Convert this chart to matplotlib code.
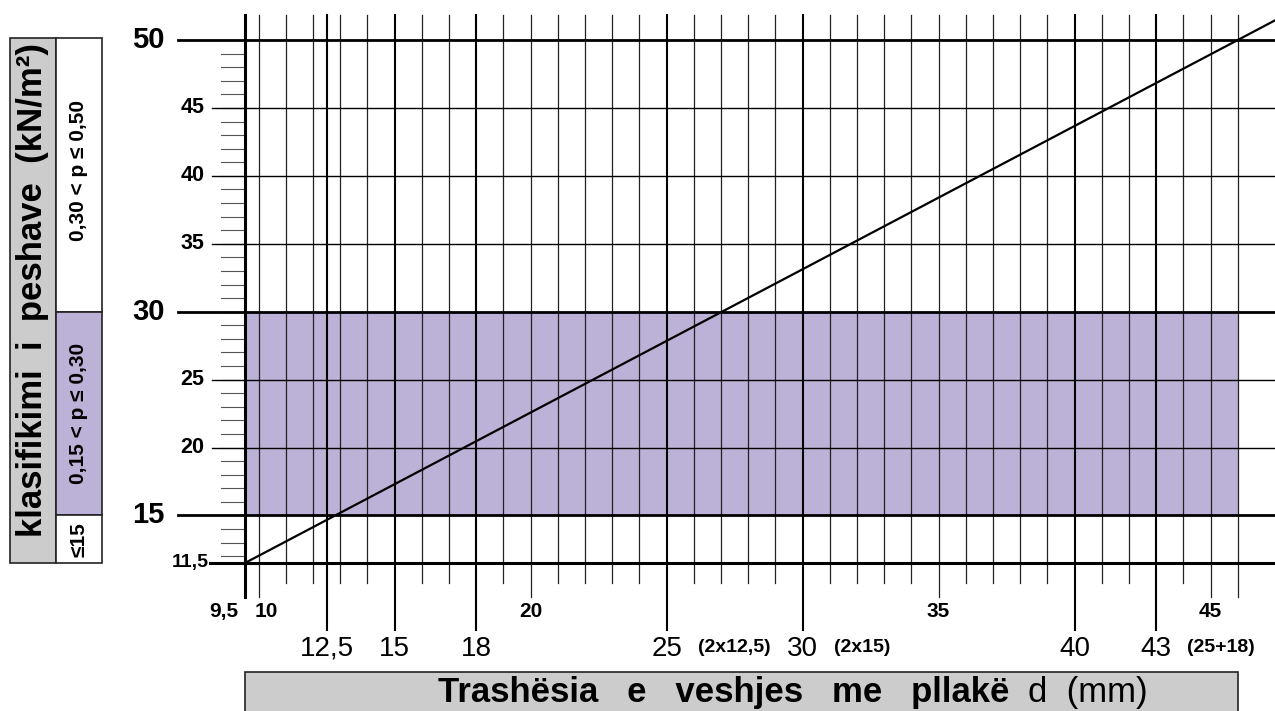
import numpy as np
import matplotlib.pyplot as plt
from matplotlib.patches import Rectangle

plt.rcParams['font.family'] = ['Liberation Sans', 'DejaVu Sans']

# load line: thickness d (mm) -> load p
line_d = [9.5, 46, 47.4]
line_p = [11.5, 50, 51.48]

# vertical grid (every mm) and the labelled thicknesses
grid_d = list(range(10, 47)) + [12.5]
small_d = [9.5, 10, 20, 35, 45]
small_lbl = ['9,5', '10', '20', '35', '45']
big_d = [12.5, 15, 18, 25, 30, 40, 43]
big_lbl = ['12,5', '15', '18', '25', '30', '40', '43']
notes = {25: '(2x12,5)', 30: '(2x15)', 43: '(25+18)'}

# horizontal lines
major_p = [50, 30, 15]
mid_p = [45, 40, 35, 25, 20]
minor_p = list(range(12, 50))
base_p = 11.5

# shaded class
band = (15, 30)

fig = plt.figure(figsize=(12.75, 7.11), dpi=100)
ax = fig.add_axes([0, 0, 1, 1])
ax.set_xlim(0.493, 47.368)
ax.set_ylim(0.605, 52.945)
ax.axis('off')

top = 51.84
x_end = 47.368

# purple band
ax.add_patch(Rectangle((9.5, band[0]), 46 - 9.5, band[1] - band[0],
                       facecolor='#bcb1d6', edgecolor='none', zorder=0))

# vertical lines
for d in grid_d:
    bottom = 10.03
    lw = 0.9
    col = '#222222'
    if d in small_d or d == 46:
        bottom = 9.0
    if d in big_d:
        bottom = 6.6
        lw = 1.5
        col = 'black'
    ax.plot([d, d], [bottom, top], color=col, lw=lw, zorder=2)
ax.plot([9.5, 9.5], [9.0, top], color='black', lw=2.2, zorder=3)

# horizontal lines
for p in minor_p:
    ax.plot([8.6, 9.5], [p, p], color='#555555', lw=0.8, zorder=2)
for p in mid_p:
    ax.plot([8.29, x_end], [p, p], color='black', lw=1.0, zorder=2)
    ax.text(8.0, p, str(p), ha='right', va='center', fontsize=15.5,
            fontweight='bold')
for p in major_p:
    ax.plot([7.04, x_end], [p, p], color='black', lw=2.0, zorder=3)
    ax.text(6.55, p, str(p), ha='right', va='center', fontsize=21,
            fontweight='bold')
ax.plot([8.2, x_end], [base_p, base_p], color='black', lw=2.2, zorder=3)
ax.text(8.15, base_p, '11,5', ha='right', va='center', fontsize=14,
        fontweight='bold')

# load line
ax.plot(line_d, line_p, color='black', lw=1.6, zorder=4)

# x labels
for d, s in zip(small_d, small_lbl):
    ha = 'center'
    x = d
    if d == 9.5:
        ha, x = 'right', 9.25
    elif d == 10:
        ha, x = 'left', 9.85
    ax.text(x, 7.9, s, ha=ha, va='center', fontsize=15, fontweight='bold')
for d, s in zip(big_d, big_lbl):
    ax.text(d, 5.2, s, ha='center', va='center', fontsize=20)
    if d in notes:
        ax.text(d + 1.15, 5.3, notes[d], ha='left', va='center',
                fontsize=14, fontweight='bold')

# bottom title box
ax.add_patch(Rectangle((9.5, 0.0), 46 - 9.5, 3.48, facecolor='#cccccc',
                       edgecolor='#222222', lw=1.2, zorder=1,
                       clip_on=False))
ax.text(37.6, 2.0, 'Trashësia   e   veshjes   me   pllakë', ha='right',
        va='center', fontsize=25, fontweight='bold')
ax.text(38.3, 2.0, 'd  (mm)', ha='left', va='center', fontsize=25)

# left class box
bx0, bx1, bx2 = 0.86, 2.55, 4.24
btop = 50.15
ax.add_patch(Rectangle((bx0, base_p), bx1 - bx0, btop - base_p,
                       facecolor='#cccccc', edgecolor='#222222', lw=1.2))
ax.add_patch(Rectangle((bx1, 30), bx2 - bx1, btop - 30,
                       facecolor='white', edgecolor='#222222', lw=1.2))
ax.add_patch(Rectangle((bx1, 15), bx2 - bx1, 15,
                       facecolor='#bcb1d6', edgecolor='#222222', lw=1.2))
ax.add_patch(Rectangle((bx1, base_p), bx2 - bx1, 15 - base_p,
                       facecolor='white', edgecolor='#222222', lw=1.2))
ax.text((bx0 + bx1) / 2, 31.6, 'klasifikimi  i  peshave  (kN/m²)',
        rotation=90, ha='center', va='center', fontsize=25,
        fontweight='bold')
ax.text((bx1 + bx2) / 2, 40.4, '0,30 < p ≤ 0,50', rotation=90,
        ha='center', va='center', fontsize=15, fontweight='bold')
ax.text((bx1 + bx2) / 2, 22.5, '0,15 < p ≤ 0,30', rotation=90,
        ha='center', va='center', fontsize=15, fontweight='bold')
ax.text((bx1 + bx2) / 2, 13.25, '≤15', rotation=90,
        ha='center', va='center', fontsize=15, fontweight='bold')

fig.savefig('out.png', dpi=100)
